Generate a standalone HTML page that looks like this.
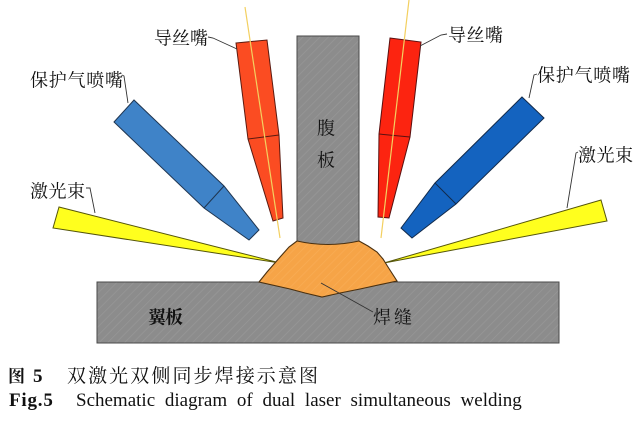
<!DOCTYPE html>
<html>
<head>
<meta charset="utf-8">
<style>
  html,body{margin:0;padding:0;background:#fff;}
  svg{display:block;}
  .lbl{font-family:"Liberation Serif","Noto Serif CJK SC",serif;font-size:18px;fill:#111;}
</style>
</head>
<body>
<svg width="643" height="421" viewBox="0 0 643 421" xmlns="http://www.w3.org/2000/svg">
  <defs>
    <pattern id="hatch" width="6" height="6" patternUnits="userSpaceOnUse" patternTransform="rotate(45)">
      <rect width="6" height="6" fill="#8c8c8c"/>
      <line x1="0" y1="0" x2="0" y2="6" stroke="#979797" stroke-width="1.5"/>
    </pattern>
    <pattern id="ohatch" width="6" height="6" patternUnits="userSpaceOnUse" patternTransform="rotate(45)">
      <rect width="6" height="6" fill="#f6a447"/>
      <line x1="0" y1="0" x2="0" y2="6" stroke="#f9ad55" stroke-width="1.5"/>
    </pattern>
  </defs>
  <rect width="643" height="421" fill="#fff"/>

  <!-- laser beams -->
  <polygon points="59,207 53,228 280,263" fill="#ffff1e" stroke="#55550a" stroke-width="1"/>
  <polygon points="601,200 607,221 384,263" fill="#ffff1e" stroke="#55550a" stroke-width="1"/>

  <!-- web plate -->
  <rect x="297" y="36" width="62" height="212" fill="url(#hatch)" stroke="#4a4a4a" stroke-width="1"/>
  <!-- flange plate -->
  <rect x="97" y="282" width="462" height="61" fill="url(#hatch)" stroke="#4a4a4a" stroke-width="1"/>

  <!-- weld -->
  <path d="M259,282 L267,272 L274,264 L281,256 L289,247 L297,241 Q328,248 359,241 L368,246 L377,252 L383,259 L388,267 L397,281 L360,289 L340,293 L322,297 L305,293 L290,289 Z"
        fill="url(#ohatch)" stroke="#4a3010" stroke-width="1.1"/>

  <!-- left blue nozzle -->
  <polygon points="114,122 134,100 224,186 259,230 249,240 204,208" fill="#3f83c8" stroke="#1f3550" stroke-width="1"/>
  <line x1="204" y1="208" x2="224" y2="186" stroke="#1f3550" stroke-width="1"/>
  <!-- right blue nozzle -->
  <polygon points="522,97 544,118 456,204 412,238 401,228 435,183" fill="#1463bf" stroke="#122a4a" stroke-width="1"/>
  <line x1="435" y1="183" x2="456" y2="204" stroke="#122a4a" stroke-width="1"/>

  <!-- left red nozzle -->
  <polygon points="236,43 267,40 279,135 283,218 273,221 248,139" fill="#fb4c22" stroke="#5a1a10" stroke-width="1"/>
  <line x1="248" y1="139" x2="279" y2="135" stroke="#5a1a10" stroke-width="1"/>
  <line x1="245" y1="7" x2="280" y2="238" stroke="#f3d060" stroke-width="1.2"/>
  <!-- right red nozzle -->
  <polygon points="390,38 421,42 410,137 389,218 378,217 379,134" fill="#fc2410" stroke="#5a1010" stroke-width="1"/>
  <line x1="379" y1="134" x2="410" y2="137" stroke="#5a1010" stroke-width="1"/>
  <line x1="409" y1="0" x2="381" y2="238" stroke="#f3d060" stroke-width="1.2"/>

  <!-- leader lines -->
  <g stroke="#333" stroke-width="0.9" fill="none">
    <polyline points="208,37 213,38 237,49"/>
    <polyline points="122,75 124,76 128,103"/>
    <polyline points="86,188 90,188 95,213"/>
    <polyline points="447,34 441,35 420,46"/>
    <polyline points="537,74 534,75 529,98"/>
    <polyline points="578,152 576,153 567,208"/>
    <polyline points="321,283 373,312"/>
  </g>

  <!-- labels -->
  <text class="lbl" x="154" y="44.5" textLength="54" lengthAdjust="spacing">导丝嘴</text>
  <text class="lbl" x="30" y="86.5" textLength="93" lengthAdjust="spacing">保护气喷嘴</text>
  <text class="lbl" x="30" y="197.5" textLength="55" lengthAdjust="spacing">激光束</text>
  <text class="lbl" x="448" y="41.5" textLength="55" lengthAdjust="spacing">导丝嘴</text>
  <text class="lbl" x="537" y="81.5" textLength="93" lengthAdjust="spacing">保护气喷嘴</text>
  <text class="lbl" x="578" y="161.5" textLength="55" lengthAdjust="spacing">激光束</text>
  <text class="lbl" x="317" y="134.5">腹</text>
  <text class="lbl" x="317" y="166.5">板</text>
  <text class="lbl" x="148" y="323.5" textLength="35" lengthAdjust="spacing" font-weight="bold">翼板</text>
  <text class="lbl" x="373" y="323.5" textLength="39" lengthAdjust="spacing">焊缝</text>

  <!-- caption -->
  <text x="8" y="382" font-family="'Liberation Serif','Noto Serif CJK SC',serif" font-size="17" font-weight="bold" fill="#111">图</text>
  <text x="33" y="382" font-family="'Liberation Serif','Noto Serif CJK SC',serif" font-size="19" font-weight="bold" fill="#111">5</text>
  <text x="67" y="382" font-family="'Liberation Serif','Noto Serif CJK SC',serif" font-size="19" fill="#111" textLength="251" lengthAdjust="spacing">双激光双侧同步焊接示意图</text>
  <text x="9" y="406" font-family="'Liberation Serif',serif" font-size="19" font-weight="bold" fill="#111" letter-spacing="0.8">Fig.5</text>
  <text x="76" y="406" font-family="'Liberation Serif',serif" font-size="19" fill="#111" word-spacing="5">Schematic diagram of dual laser simultaneous welding</text>
</svg>
</body>
</html>
